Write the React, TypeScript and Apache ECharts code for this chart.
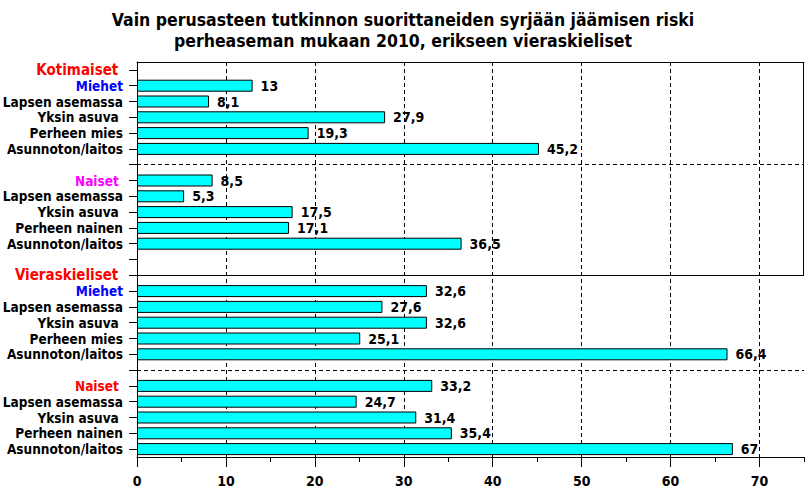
import React, { useEffect, useRef } from "react";
import * as echarts from "echarts";

const titleText =
  "Vain perusasteen tutkinnon suorittaneiden syrjään jäämisen riski\nperheaseman mukaan 2010, erikseen vieraskieliset";

const categories = [
  "Kotimaiset ",
  "Miehet",
  "Lapsen asemassa",
  "Yksin asuva ",
  "Perheen mies",
  "Asunnoton/laitos",
  " ",
  "Naiset ",
  "Lapsen asemassa",
  "Yksin asuva ",
  "Perheen nainen",
  "Asunnoton/laitos",
  "  ",
  "Vieraskieliset ",
  "Miehet",
  "Lapsen asemassa",
  "Yksin asuva ",
  "Perheen mies",
  "Asunnoton/laitos",
  "   ",
  "Naiset ",
  "Lapsen asemassa",
  "Yksin asuva ",
  "Perheen nainen",
  "Asunnoton/laitos",
];

const values: (number | null)[] = [
  null, 13, 8.1, 27.9, 19.3, 45.2,
  null,
  8.5, 5.3, 17.5, 17.1, 36.5,
  null,
  null, 32.6, 27.6, 32.6, 25.1, 66.4,
  null,
  33.2, 24.7, 31.4, 35.4, 67,
];

// label colour group per category index
const labelGroups = [
  "hdr", "blue", "k", "k", "k", "k",
  "k",
  "magenta", "k", "k", "k", "k",
  "k",
  "hdr", "blue", "k", "k", "k", "k",
  "k",
  "red", "k", "k", "k", "k",
];

const xMin = 0;
const xMax = 75;
const majorTicks = [0, 10, 20, 30, 40, 50, 60, 70];
const minorTicks = [5, 15, 25, 35, 45, 55, 65, 75];
const gridValues = [10, 20, 30, 40, 50, 60, 70];
const dashedRows = [" ", "   "];
const solidRow = "Vieraskieliset ";
const boxedUntil = "Vieraskieliset ";

const GRID = { left: 137, right: 2, top: 62, bottom: 34 };
const COND = "'DejaVu Sans Condensed', 'DejaVu Sans', sans-serif";

export default function App() {
  const ref = useRef<HTMLDivElement>(null);

  useEffect(() => {
    document.body.style.margin = "0";
    if (!ref.current) return;
    const chart = echarts.init(ref.current, undefined, { renderer: "svg" });

    const dash = { type: [4, 3] as any, color: "#000", width: 1 };
    const rs = (color: string, size = 13.5) => ({
      color,
      fontFamily: COND,
      fontWeight: "bold",
      fontSize: size,
    });

    const option: any = {
      animation: false,
      backgroundColor: "#fff",
      title: {
        text: titleText,
        left: "center",
        top: 4,
        textStyle: {
          fontFamily: COND,
          fontWeight: "bold",
          fontSize: 17.5,
          lineHeight: 21,
          color: "#000",
        },
      },
      grid: { ...GRID, containLabel: false, outerBoundsMode: "none" },
      xAxis: [
        {
          type: "value",
          min: xMin,
          max: xMax,
          interval: 10,
          position: "bottom",
          axisLine: { show: true, lineStyle: { color: "#000", width: 1 } },
          axisTick: {
            show: true,
            length: 10,
            customValues: majorTicks,
            lineStyle: { color: "#000" },
          },
          axisLabel: {
            customValues: majorTicks,
            margin: 17,
            fontFamily: COND,
            fontWeight: "bold",
            fontSize: 14,
            color: "#000",
          },
          splitLine: { show: false },
        },
        {
          type: "value",
          min: xMin,
          max: xMax,
          interval: 5,
          position: "bottom",
          axisLine: { show: false },
          axisTick: {
            show: true,
            length: 5,
            customValues: minorTicks,
            lineStyle: { color: "#000" },
          },
          axisLabel: { show: false },
          splitLine: { show: false },
        },
        {
          type: "value",
          min: xMin,
          max: xMax,
          position: "top",
          axisLine: { show: true, lineStyle: { color: "#000", width: 1 } },
          axisTick: { show: false },
          axisLabel: { show: false },
          splitLine: { show: false },
        },
      ],
      yAxis: {
        type: "category",
        inverse: true,
        data: categories,
        axisLine: { show: true, lineStyle: { color: "#000", width: 1 } },
        axisTick: {
          show: true,
          alignWithLabel: true,
          length: 8,
          interval: 0,
          lineStyle: { color: "#000" },
        },
        axisLabel: {
          interval: 0,
          margin: 14,
          fontFamily: COND,
          fontWeight: "bold",
          fontSize: 13.5,
          color: "#000",
          formatter: (v: string, i: number) => `{${labelGroups[i]}|${v}}`,
          rich: {
            k: rs("#000000"),
            hdr: rs("#FF0000", 15),
            red: rs("#FF0000"),
            blue: rs("#0000FF"),
            magenta: rs("#FF00FF"),
          },
        },
        splitLine: { show: false },
      },
      series: [
        {
          type: "bar",
          xAxisIndex: 0,
          data: values,
          barWidth: 12,
          itemStyle: { color: "#00FFFF", borderColor: "#000", borderWidth: 1 },
          label: {
            show: true,
            position: "right",
            distance: 8,
            fontFamily: COND,
            fontWeight: "bold",
            fontSize: 14,
            color: "#000",
            formatter: (p: any) => String(p.value).replace(".", ","),
          },
          markLine: {
            silent: true,
            symbol: "none",
            label: { show: false },
            z: 1,
            data: [
              ...gridValues.map((v) => ({ xAxis: v, lineStyle: dash })),
              ...dashedRows.map((r) => ({ yAxis: r, lineStyle: dash })),
              { yAxis: solidRow, lineStyle: { type: "solid", color: "#000", width: 1 } },
            ],
          },
        },
      ],
    };

    chart.setOption(option);

    const xRight = chart.convertToPixel({ xAxisIndex: 0 }, xMax) as number;
    const yBottom = chart.convertToPixel({ yAxisIndex: 0 }, boxedUntil) as number;
    chart.setOption({
      graphic: [
        {
          type: "line",
          silent: true,
          shape: { x1: xRight - 0.5, y1: GRID.top, x2: xRight - 0.5, y2: yBottom },
          style: { stroke: "#000", lineWidth: 1 },
        },
      ],
    });

    return () => chart.dispose();
  }, []);

  return <div ref={ref} style={{ width: 806, height: 491 }} />;
}
